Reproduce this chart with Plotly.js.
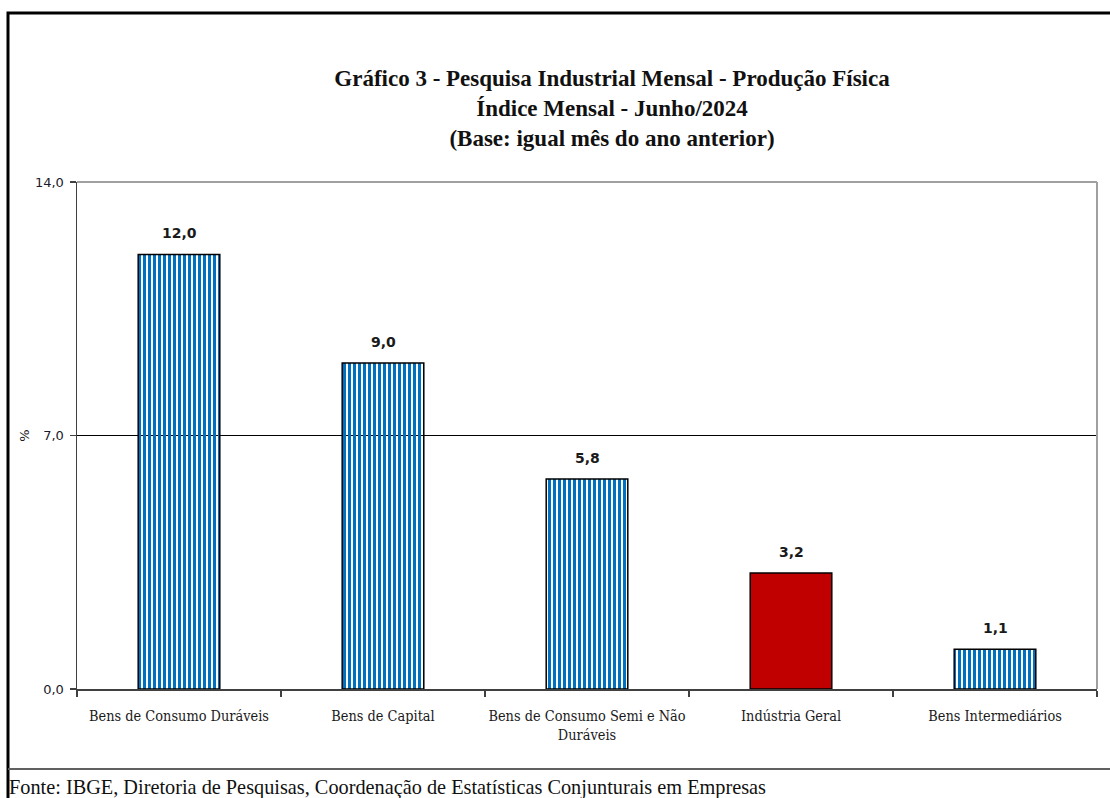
<!DOCTYPE html>
<html>
<head>
<meta charset="utf-8">
<script src="https://cdn.plot.ly/plotly-3.0.1.min.js"></script>
<style>html,body{margin:0;padding:0;background:#fff;}#chart{width:1110px;height:798px;}</style>
</head>
<body>
<div id="chart"></div>
<script>
const categories = ['Bens de Consumo Duráveis', 'Bens de Capital', 'Bens de Consumo Semi e Não<br>Duráveis', 'Indústria Geral', 'Bens Intermediários'];
const values = [12.0, 9.0, 5.8, 3.2, 1.1];
const barColors = ['#0070C0', '#0070C0', '#0070C0', '#C00000', '#0070C0'];
const barPatterns = ['|', '|', '|', '', '|'];
const yTickVals = [0, 7, 14];
const titleLines = ['Gráfico 3 - Pesquisa Industrial Mensal - Produção Física', 'Índice Mensal - Junho/2024', '(Base: igual mês do ano anterior)'];
const sourceText = 'Fonte: IBGE, Diretoria de Pesquisas, Coordenação de Estatísticas Conjunturais em Empresas';

const W = 1110, H = 798;
const L = 77, R = 13, T = 182, B = 109;
const pw = W - L - R, ph = H - T - B;
const px = v => (v - L) / pw;
const py = v => (H - B - v) / ph;

const serif = '"DejaVu Serif Condensed", "DejaVu Serif", serif';

const trace = {
  type: 'bar',
  x: categories,
  y: values,
  width: 0.4,
  marker: {
    color: barColors,
    line: {color: '#000000', width: 1.5},
    pattern: {shape: barPatterns, fgcolor: '#0070C0', bgcolor: '#ffffff', size: 5, solidity: 0.6, fillmode: 'replace'}
  },
  hoverinfo: 'x+y'
};

const annotations = categories.map((c, i) => ({
  x: c, y: values[i], xref: 'x', yref: 'y',
  text: values[i].toFixed(1).replace('.', ','),
  showarrow: false, yanchor: 'bottom', yshift: 11,
  font: {family: '"DejaVu Sans", sans-serif', size: 14, color: '#1a1a1a', weight: 'bold'}
}));
annotations.push({
  xref: 'paper', yref: 'paper', x: px(7), y: py(788), xanchor: 'left', yanchor: 'middle',
  text: sourceText, showarrow: false,
  font: {family: '"Liberation Serif", serif', size: 20.3, color: '#111'}
});

const layout = {
  width: W, height: H,
  margin: {l: L, r: R, t: T, b: B, pad: 0},
  paper_bgcolor: '#ffffff', plot_bgcolor: '#ffffff',
  separators: ',.',
  showlegend: false,
  bargap: 0.6,
  title: {
    text: titleLines.map(t => '<b>' + t + '</b>').join('<br>'),
    x: 612 / W, xref: 'container', xanchor: 'center',
    y: 1 - 86 / H, yref: 'container', yanchor: 'top',
    font: {family: '"Liberation Serif", serif', size: 23, color: '#111'}
  },
  xaxis: {
    type: 'category',
    tickson: 'boundaries',
    tickangle: 0,
    automargin: false,
    ticks: 'outside', ticklen: 6, tickcolor: '#404040', tickwidth: 1.5,
    showline: true, linecolor: '#404040', linewidth: 1.5,
    showgrid: false, zeroline: false,
    tickfont: {family: serif, size: 14.4, color: '#1a1a1a'},
    ticklabelstandoff: 13,
    fixedrange: true
  },
  yaxis: {
    range: [0, 14],
    tickvals: yTickVals,
    tickformat: '.1f',
    automargin: false,
    ticks: 'outside', ticklen: 6, tickcolor: '#404040', tickwidth: 1.5,
    showline: true, linecolor: '#404040', linewidth: 1.5,
    showgrid: true, gridcolor: '#000000', gridwidth: 1.5,
    zeroline: false,
    tickfont: {family: '"DejaVu Sans", sans-serif', size: 13, color: '#1a1a2a'},
    ticklabelstandoff: 3,
    title: {text: '%', standoff: 2, font: {family: '"DejaVu Sans", sans-serif', size: 13, color: '#1a1a1a'}},
    fixedrange: true
  },
  shapes: [
    {type: 'line', xref: 'paper', yref: 'paper', x0: 0, x1: 1, y0: 1, y1: 1, line: {color: '#a0a0a0', width: 2}, layer: 'above'},
    {type: 'line', xref: 'paper', yref: 'paper', x0: 1, x1: 1, y0: 0, y1: 1, line: {color: '#a0a0a0', width: 2}, layer: 'above'},
    {type: 'rect', xref: 'paper', yref: 'paper', x0: px(8), x1: px(1115), y0: py(13), y1: py(805), line: {color: '#000000', width: 3}, fillcolor: 'rgba(0,0,0,0)', layer: 'above'},
    {type: 'line', xref: 'paper', yref: 'paper', x0: px(8), x1: px(1115), y0: py(769), y1: py(769), line: {color: '#606060', width: 2}, layer: 'above'}
  ],
  annotations: annotations
};

Plotly.newPlot('chart', [trace], layout, {displayModeBar: false, staticPlot: true});
</script>
</body>
</html>
